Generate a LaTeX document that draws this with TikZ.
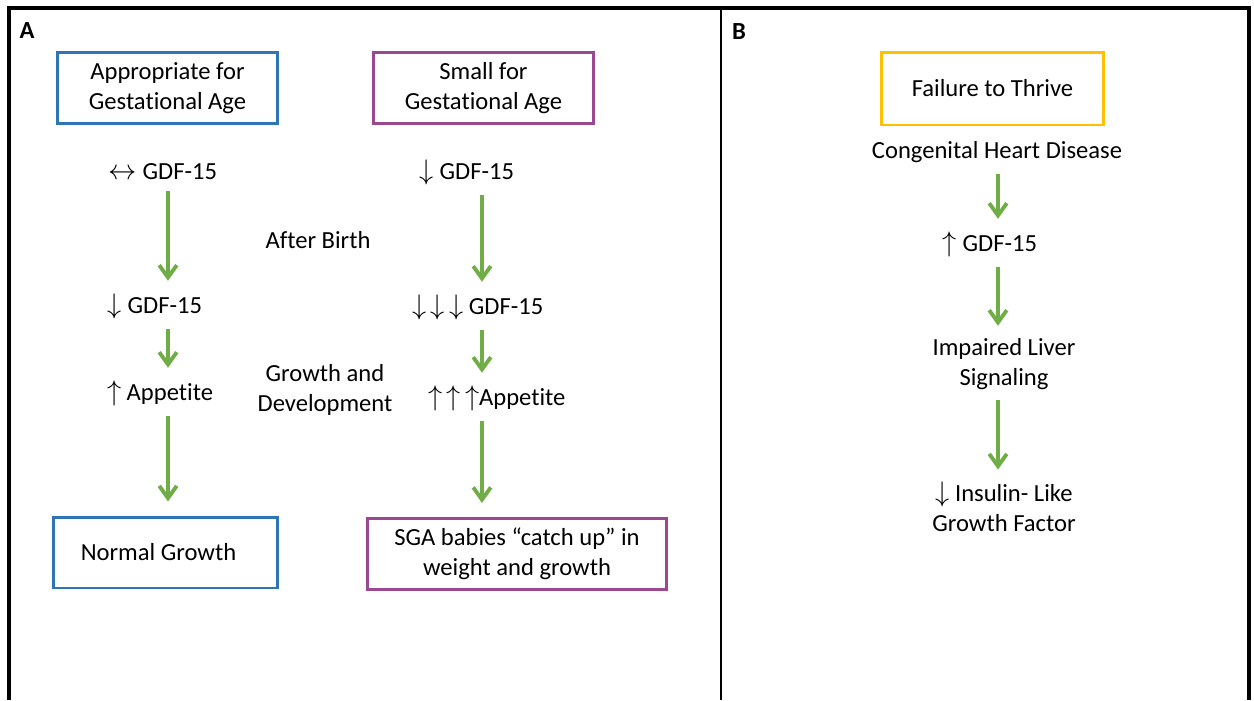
\RequirePackage{fix-cm}
\documentclass[tikz,border=0pt]{standalone}
\usepackage{graphicx}
\usepackage{fontspec}
\setmainfont{Carlito}[Ligatures=NoCommon]
\usetikzlibrary{arrows.meta}
\definecolor{agablue}{RGB}{46,117,182}
\definecolor{sgapurple}{RGB}{153,72,145}
\definecolor{ftgold}{RGB}{255,192,0}
\definecolor{flowgreen}{RGB}{112,173,71}
\newcommand{\upa}{\scalebox{1.15}{$\uparrow$}}
\newcommand{\dna}{\scalebox{1.15}{$\downarrow$}}
\newcommand{\lra}{\scalebox{1.15}{$\leftrightarrow$}}
\tikzset{
	lbl/.style={font=\fontsize{14}{17}\selectfont, align=center, inner sep=1pt},
	catbox/.style={lbl, draw=#1, line width=1.7pt, minimum height=1.42cm},
	panel/.style={font=\bfseries\fontsize{14}{15}\selectfont, inner sep=0pt},
	flow/.style={draw=flowgreen, line width=2.2pt, -{Straight Barb[length=7pt,width=10pt]}}
}
\begin{document}
\begin{tikzpicture}[x=0.02cm,y=-0.02cm]
	\useasboundingbox (0,0) rectangle (1254,700);
	% frame
	\draw[line width=2.3pt] (9,700) -- (9,8) -- (1249,8) -- (1249,700);
	\draw[line width=1.6pt] (721,8) -- (721,700);
	\node[panel] (labA) at (27,31) {A};
	\node[panel] (labB) at (739,32) {B};
	
	% panel A
	\def\xa{168}
	\def\xb{482}
	\coordinate (colA) at (\xa,0);
	\coordinate (colB) at (\xb,0);
	\node[catbox=agablue, minimum width=4.42cm] (aga) at (167.5,88) {Appropriate for\\Gestational Age};
	\node[catbox=sgapurple, minimum width=4.42cm] (sga) at (483.5,88) {Small for\\Gestational Age};
	\node[lbl] (aga1) at (163,172) {\lra\ GDF-15};
	\node[lbl] (aga2) at (155,306) {\dna\ GDF-15};
	\node[lbl] (aga3) at (160,393) {\upa\ Appetite};
	\node[catbox=agablue, minimum width=4.5cm] (agaend) at (165.5,552.5) {Normal Growth\hspace{8pt}};
	\node[lbl] (sga1) at (467,172) {\dna\ GDF-15};
	\node[lbl] (sga2) at (478,307) {\dna\,\dna\,\dna\ GDF-15};
	\node[lbl] (sga3) at (497,398) {\upa\,\upa\,\upa Appetite};
	\node[catbox=sgapurple, minimum width=5.98cm] (sgaend) at (517,554) {SGA babies “catch up” in\\weight and growth};
	\node[lbl] (birth) at (318,240) {After Birth};
	\node[lbl] (grow) at (325,390) {Growth and\\Development};
	\draw[flow] ([yshift=-5pt]aga1.south -| colA) -- ([yshift=6pt]aga2.north -| colA);
	\draw[flow] ([yshift=-5pt]aga2.south -| colA) -- ([yshift=6pt]aga3.north -| colA);
	\draw[flow] ([yshift=-5pt]aga3.south -| colA) -- ([yshift=8pt]agaend.north -| colA);
	\draw[flow] ([yshift=-5pt]sga1.south -| colB) -- ([yshift=6pt]sga2.north -| colB);
	\draw[flow] ([yshift=-5pt]sga2.south -| colB) -- ([yshift=6pt]sga3.north -| colB);
	\draw[flow] ([yshift=-5pt]sga3.south -| colB) -- ([yshift=8pt]sgaend.north -| colB);
	
	% panel B
	\coordinate (colC) at (998,0);
	\node[catbox=ftgold, minimum width=4.46cm, minimum height=1.46cm] (ftt) at (992.5,88.5) {Failure to Thrive};
	\node[lbl] (chd) at (997,152) {Congenital Heart Disease};
	\node[lbl] (ftt1) at (990,244) {\upa\ GDF-15};
	\node[lbl] (ftt2) at (1004,364) {Impaired Liver\\Signaling};
	\node[lbl] (ftt3) at (1004,507) {\dna\ Insulin- Like\\Growth Factor};
	\draw[flow] ([yshift=-5pt]chd.south -| colC) -- ([yshift=6pt]ftt1.north -| colC);
	\draw[flow] ([yshift=-5pt]ftt1.south -| colC) -- ([yshift=6pt]ftt2.north -| colC);
	\draw[flow] ([yshift=-5pt]ftt2.south -| colC) -- ([yshift=6pt]ftt3.north -| colC);
\end{tikzpicture}
\end{document}
